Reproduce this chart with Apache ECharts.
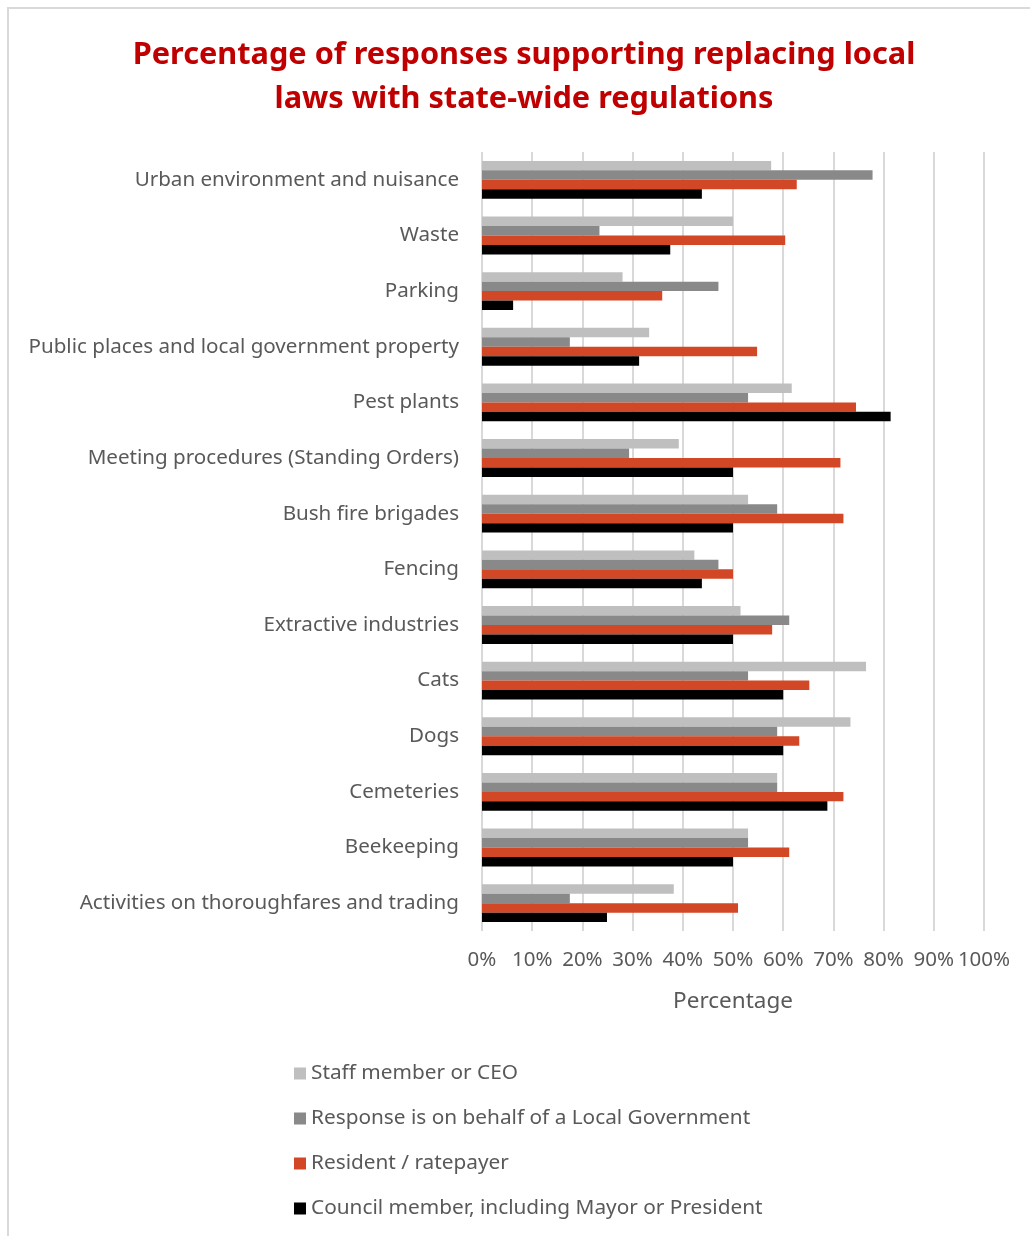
<!DOCTYPE html>
<html>
<head>
	<meta charset="utf-8">
	<title>Percentage of responses</title>
	<script type="text/javascript" src="https://cdn.jsdelivr.net/npm/echarts@6/dist/echarts.min.js"></script>
</head>
<style type="text/css">
body {
	margin: 0;
	background: #fff;
}
#frame {
	position: absolute;
	left: 7px;
	top: 7px;
	width: 1100px;
	height: 1300px;
	border-left: 2px solid #d9d9d9;
	border-top: 2px solid #d9d9d9;
}
#echarts1 {
	position: absolute;
	left: 0;
	top: 0;
	width: 1030px;
	height: 1236px;
}
</style>
<body>
	<div id="frame"></div>
	<div id="echarts1"></div>
</body>

<script type="text/javascript">
	// categories, top to bottom
	var categories = [
		'Urban environment and nuisance',
		'Waste',
		'Parking',
		'Public places and local government property',
		'Pest plants',
		'Meeting procedures (Standing Orders)',
		'Bush fire brigades',
		'Fencing',
		'Extractive industries',
		'Cats',
		'Dogs',
		'Cemeteries',
		'Beekeeping',
		'Activities on thoroughfares and trading'
	];

	var seriesNames = [
		'Staff member or CEO',
		'Response is on behalf of a Local Government',
		'Resident / ratepayer',
		'Council member, including Mayor or President'
	];

	// values in % (same order as categories)
	var staffValues    = [57.6, 50.0, 28.0, 33.3, 61.7, 39.2, 53.0, 42.3, 51.5, 76.5, 73.4, 58.8, 53.0, 38.2];
	var localGovValues = [77.8, 23.4, 47.1, 17.5, 53.0, 29.3, 58.8, 47.1, 61.2, 53.0, 58.8, 58.8, 53.0, 17.5];
	var residentValues = [62.7, 60.4, 35.9, 54.8, 74.5, 71.4, 72.0, 50.0, 57.8, 65.2, 63.2, 72.0, 61.2, 51.0];
	var councilValues  = [43.8, 37.5, 6.2, 31.3, 81.4, 50.0, 50.0, 43.8, 50.0, 60.0, 60.0, 68.8, 50.0, 24.9];

	var barColors = ['#bfbfbf', '#898989', '#d24726', '#000000'];
	var textColor = '#595959';
	var fontName = 'Noto Sans';

	var Chart1 = echarts.init(document.getElementById('echarts1'));

	var allValues = [staffValues, localGovValues, residentValues, councilValues];
	var series = [];
	for (var i = 0; i < seriesNames.length; i++) {
		series.push({
			name: seriesNames[i],
			type: 'bar',
			barGap: '0%',
			barCategoryGap: '32%',
			itemStyle: { color: barColors[i] },
			data: allValues[i]
		});
	}

	option1 = {
		color: barColors,
		title: {
			text: 'Percentage of responses supporting replacing local\nlaws with state-wide regulations',
			left: 519,
			top: 28,
			textAlign: 'center',
			textStyle: {
				color: '#c00000',
				fontFamily: fontName,
				fontWeight: 'bold',
				fontSize: 30.7,
				lineHeight: 44
			}
		},
		legend: {
			orient: 'vertical',
			left: 289,
			top: 1058,
			icon: 'rect',
			itemWidth: 12,
			itemHeight: 12,
			itemGap: 24,
			textStyle: {
				color: textColor,
				fontFamily: fontName,
				fontSize: 20.8
			},
			data: seriesNames
		},
		grid: {
			left: 482,
			right: 46,
			top: 152,
			bottom: 305
		},
		xAxis: {
			type: 'value',
			min: 0,
			max: 100,
			interval: 10,
			name: 'Percentage',
			nameLocation: 'middle',
			nameGap: 59,
			nameTextStyle: {
				color: textColor,
				fontFamily: fontName,
				fontSize: 22.5
			},
			axisLine: { show: false },
			axisTick: { show: false },
			axisLabel: {
				formatter: '{value}%',
				margin: 19,
				color: textColor,
				fontFamily: fontName,
				fontSize: 20.5
			},
			splitLine: {
				show: true,
				lineStyle: { color: '#d9d9d9', width: 2 }
			}
		},
		yAxis: {
			type: 'category',
			inverse: true,
			data: categories,
			axisLine: { show: false },
			axisTick: { show: false },
			axisLabel: {
				margin: 23,
				color: textColor,
				fontFamily: fontName,
				fontSize: 20.6
			}
		},
		series: series
	};

	Chart1.setOption(option1);
</script>
</html>
